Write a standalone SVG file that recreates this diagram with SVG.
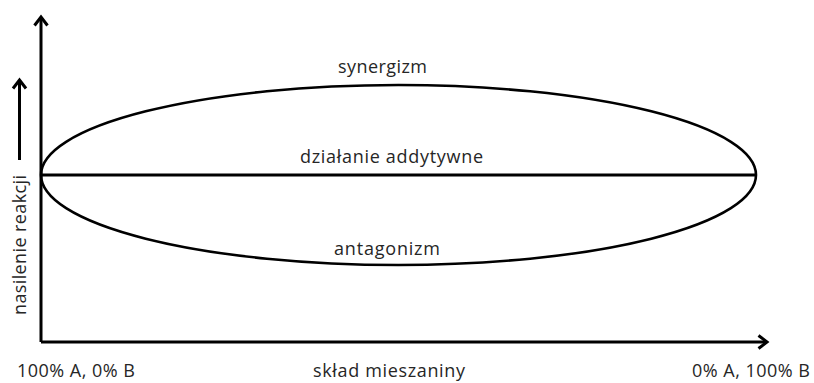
<svg xmlns="http://www.w3.org/2000/svg" width="814" height="383" viewBox="0 0 814 383">
  <style>
    .t { font-family: "Open Sans", "Liberation Sans", sans-serif; font-size: 18px; fill: #262626; }
    .ax { stroke: #000; stroke-width: 3; fill: none; }
    .cv { stroke: #000; stroke-width: 2.6; fill: none; }
  </style>
  <defs>
    <marker id="arr" markerUnits="userSpaceOnUse" markerWidth="20" markerHeight="20" viewBox="-12 -10 14 20" refX="0" refY="0" orient="auto">
      <path d="M -8.5 -6.5 L 0 0 L -8.5 6.5" stroke="#000" stroke-width="3" fill="none" stroke-linejoin="miter"/>
    </marker>
  </defs>
  <rect width="814" height="383" fill="#fff"/>
  <g id="connectors">
    <path class="ax" d="M 41 342 L 41 17" marker-end="url(#arr)"/>
    <path class="ax" d="M 41 342 L 767 342" marker-end="url(#arr)"/>
    <path class="ax" d="M 19.5 160 L 19.5 80" marker-end="url(#arr)"/>
  </g>
  <g id="ellipse">
    <ellipse class="cv" cx="398.5" cy="175" rx="357.5" ry="90"/>
  </g>
  <g id="additive-line">
    <line class="ax" x1="41" y1="175" x2="756" y2="175"/>
  </g>
  <g id="labels">
    <text id="synergizm" class="t" x="338" y="73" textLength="89">synergizm</text>
    <text id="addytywne" class="t" x="300" y="163" textLength="183">działanie addytywne</text>
    <text id="antagonizm" class="t" x="334" y="255" textLength="106">antagonizm</text>
    <text id="sklad" class="t" x="313" y="377" textLength="152">skład mieszaniny</text>
    <text id="left" class="t" x="17" y="377" textLength="118">100% A, 0% B</text>
    <text id="right" class="t" x="692" y="377" textLength="118">0% A, 100% B</text>
    <text id="yaxis" class="t" transform="translate(26 315) rotate(-90)" x="0" y="0" textLength="140">nasilenie reakcji</text>
  </g>
</svg>
